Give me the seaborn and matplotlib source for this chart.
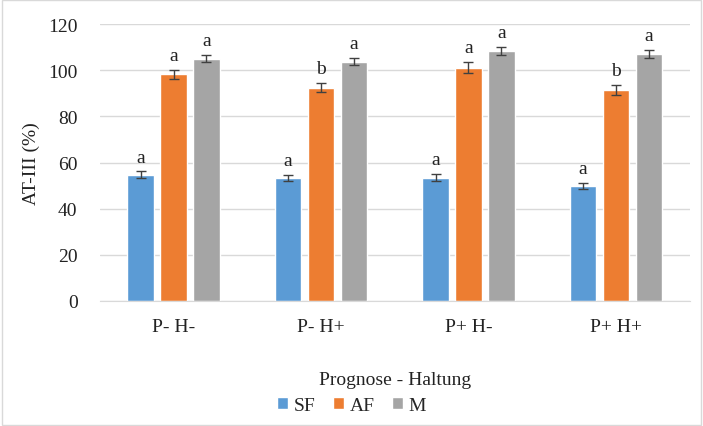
import numpy as np
import pandas as pd
import matplotlib
matplotlib.use("Agg")
import matplotlib.pyplot as plt
import seaborn as sns
from matplotlib.patches import Rectangle

# data
groups = ["P- H-", "P- H+", "P+ H-", "P+ H+"]
series = ["SF", "AF", "M"]
sf_vals = [54.7, 53.5, 53.5, 49.8]
af_vals = [98.2, 92.5, 101.2, 91.4]
m_vals = [105.1, 103.8, 108.3, 107.1]
sf_err = [1.5, 1.3, 1.5, 1.4]
af_err = [2.0, 2.0, 2.3, 2.3]
m_err = [1.6, 1.7, 1.8, 1.7]
sf_letters = ["a", "a", "a", "a"]
af_letters = ["a", "b", "a", "b"]
m_letters = ["a", "a", "a", "a"]

colors = ["#5B9BD5", "#ED7D31", "#A5A5A5"]

df = pd.DataFrame({
    "Gruppe": groups * 3,
    "Serie": ["SF"] * 4 + ["AF"] * 4 + ["M"] * 4,
    "Wert": sf_vals + af_vals + m_vals,
    "Fehler": sf_err + af_err + m_err,
    "Buchstabe": sf_letters + af_letters + m_letters,
})

sns.set_style("white")
plt.rcParams["font.family"] = ["Liberation Serif", "DejaVu Serif"]

fig, ax = plt.subplots(figsize=(7.03, 4.27), dpi=100)
fig.subplots_adjust(left=0.142, right=0.981, top=0.941, bottom=0.293)

sns.barplot(data=df, x="Gruppe", y="Wert", hue="Serie", order=groups,
            hue_order=series, palette=colors, saturation=1, width=0.67,
            gap=0.2, errorbar=None, ax=ax, legend=True)

# error bars and significance letters on top of each bar
for cont, s in zip(ax.containers, series):
    sub = df[df["Serie"] == s].set_index("Gruppe").loc[groups]
    xs = [p.get_x() + p.get_width() / 2 for p in cont.patches]
    ax.errorbar(xs, sub["Wert"], yerr=sub["Fehler"], fmt="none",
                ecolor="#404040", elinewidth=1, capsize=3.5, capthick=1)
    for x, v, e, t in zip(xs, sub["Wert"], sub["Fehler"], sub["Buchstabe"]):
        ax.text(x, v + e + 2.5, t, ha="center", va="bottom", fontsize=14,
                color="#222222")

ax.set_ylim(0, 120)
ax.set_yticks(range(0, 121, 20))
ax.set_xlim(-0.5, 3.5)
ax.yaxis.grid(True, color="#d9d9d9", linewidth=1)
ax.set_axisbelow(True)
for sp in ["top", "right", "left"]:
    ax.spines[sp].set_visible(False)
ax.spines["bottom"].set_color("#d9d9d9")
ax.tick_params(axis="both", length=0, labelsize=14, colors="#222222")
ax.tick_params(axis="y", pad=16)
ax.tick_params(axis="x", pad=12)

ax.set_ylabel("AT-III (%)", fontsize=14, color="#222222", labelpad=6)
ax.set_xlabel("Prognose - Haltung", fontsize=14, color="#222222")
ax.xaxis.set_label_coords(0.5, -0.255)

handles, labels = ax.get_legend_handles_labels()
ax.get_legend().remove()
fig.legend(handles, labels, loc="center", bbox_to_anchor=(0.5, 0.048), ncol=3,
           frameon=False, fontsize=14, handlelength=0.55, handleheight=0.55,
           handletextpad=0.3, columnspacing=0.9)

# light chart border like the original
fig.patches.append(Rectangle((0.003, 0.003), 0.994, 0.994,
                             transform=fig.transFigure, fill=False,
                             edgecolor="#d9d9d9", linewidth=1))

fig.savefig("out.png", dpi=100)
